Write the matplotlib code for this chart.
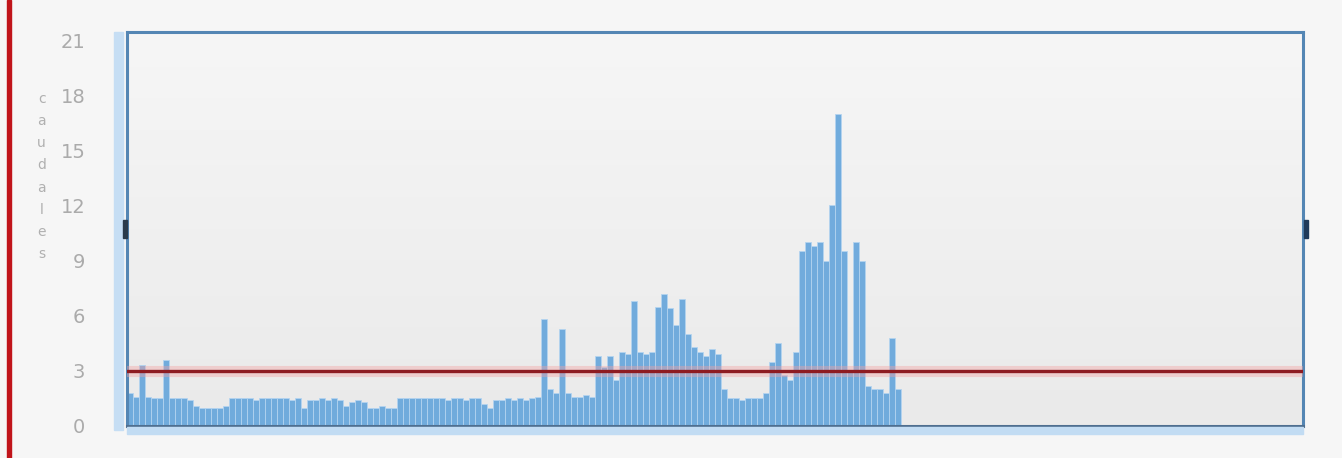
import matplotlib
matplotlib.use("Agg")
import matplotlib.pyplot as plt
from matplotlib.patches import Rectangle
import numpy as np

# values, one bar per slot
values = [1.8, 1.6, 3.3, 1.6, 1.5, 1.5, 3.6, 1.5, 1.5, 1.5,
          1.4, 1.1, 1.0, 1.0, 1.0, 1.0, 1.1, 1.5, 1.5, 1.5,
          1.5, 1.4, 1.5, 1.5, 1.5, 1.5, 1.5, 1.4, 1.5, 1.0,
          1.4, 1.4, 1.5, 1.4, 1.5, 1.4, 1.1, 1.3, 1.4, 1.3,
          1.0, 1.0, 1.1, 1.0, 1.0, 1.5, 1.5, 1.5, 1.5, 1.5,
          1.5, 1.5, 1.5, 1.4, 1.5, 1.5, 1.4, 1.5, 1.5, 1.2,
          1.0, 1.4, 1.4, 1.5, 1.4, 1.5, 1.4, 1.5, 1.6, 5.8,
          2.0, 1.8, 5.3, 1.8, 1.6, 1.6, 1.7, 1.6, 3.8, 3.2,
          3.8, 2.5, 4.0, 3.9, 6.8, 4.0, 3.9, 4.0, 6.5, 7.2,
          6.4, 5.5, 6.9, 5.0, 4.3, 4.0, 3.8, 4.2, 3.9, 2.0,
          1.5, 1.5, 1.4, 1.5, 1.5, 1.5, 1.8, 3.5, 4.5, 2.8,
          2.5, 4.0, 9.5, 10.0, 9.8, 10.0, 9.0, 12.0, 17.0, 9.5,
          3.0, 10.0, 9.0, 2.2, 2.0, 2.0, 1.8, 4.8, 2.0]
n_slots = 196
threshold = 3
y_ticks = [0, 3, 6, 9, 12, 15, 18, 21]
y_label = "caudales"

fig = plt.figure(figsize=(13.42, 4.58), dpi=100)
fig.patch.set_facecolor("#f6f6f6")

# page border on the left
fig.patches.append(Rectangle((0.005, 0.0), 0.003, 1.0, transform=fig.transFigure,
                             color="#c0141a", zorder=5))

ax = fig.add_axes([0.0946, 0.0699, 0.8763, 0.8603])
ax.set_facecolor("#f0f0f0")

# soft vertical gradient in the plot background
grad = np.linspace(0, 1, 100).reshape(-1, 1)
ax.imshow(grad, extent=[-0.5, n_slots - 0.5, 0, 21.44], aspect="auto",
          cmap=matplotlib.colors.LinearSegmentedColormap.from_list("bg", ["#eaeaea", "#f6f6f6"]),
          origin="lower", zorder=0)

x = np.arange(len(values))
ax.bar(x, values, width=1.0, color="#6aa8dc", edgecolor="#b4d4f0", linewidth=0.6,
       alpha=0.95, zorder=2)

# threshold line with a light glow
ax.axhline(threshold, color="#f4a0a0", lw=8, alpha=0.4, zorder=3)
ax.axhline(threshold, color="#8e1c22", lw=2.4, zorder=4)

ax.set_xlim(-0.5, n_slots - 0.5)
ax.set_ylim(0, 21.44)
ax.set_yticks(y_ticks)
ax.set_yticklabels([str(t) for t in y_ticks], color="#ababab", fontsize=14)
ax.tick_params(axis="y", length=0, pad=30)
ax.set_xticks(np.arange(20.5, n_slots, 21.25))
ax.set_xticklabels([])
ax.tick_params(axis="x", length=3, color="#ffffff", width=1.5, direction="out")

for side in ["top", "bottom", "left", "right"]:
    ax.spines[side].set_color("#5486b4")
    ax.spines[side].set_linewidth(2.2)
ax.spines["bottom"].set_color("#4f6f90")

# light blue scroll strips beside the axes
fig.patches.append(Rectangle((0.0850, 0.062), 0.0065, 0.868, transform=fig.transFigure,
                             color="#c6def4", zorder=1))
fig.patches.append(Rectangle((0.0946, 0.052), 0.8763, 0.015, transform=fig.transFigure,
                             color="#c2dcf3", zorder=1))
# small handles at mid height
fig.patches.append(Rectangle((0.0918, 0.48), 0.003, 0.04, transform=fig.transFigure,
                             color="#2a3a4a", zorder=6))
fig.patches.append(Rectangle((0.9715, 0.48), 0.003, 0.04, transform=fig.transFigure,
                             color="#1f3a5a", zorder=6))

fig.text(0.031, 0.80, "\n".join(y_label), color="#b0b0b0", fontsize=10,
         ha="center", va="top", linespacing=1.75)

fig.savefig("out.png", dpi=100, facecolor=fig.get_facecolor())
